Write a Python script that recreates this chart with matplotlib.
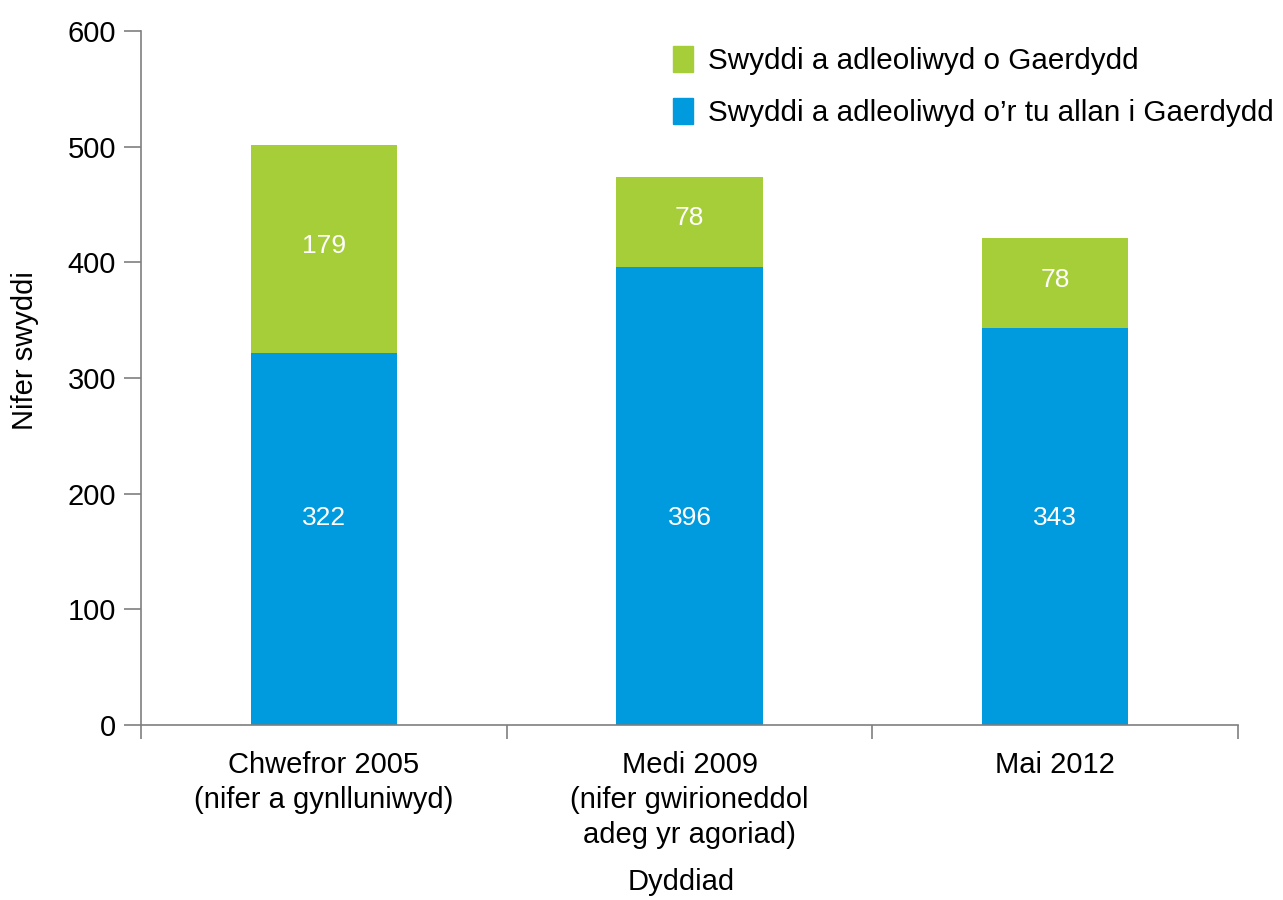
import matplotlib.pyplot as plt
from matplotlib.patches import Patch

plt.rcParams['font.family'] = ['Liberation Sans', 'DejaVu Sans']

categories = ['Chwefror 2005\n(nifer a gynlluniwyd)',
              'Medi 2009\n(nifer gwirioneddol\nadeg yr agoriad)',
              'Mai 2012']
outside = [322, 396, 343]   # Swyddi a adleoliwyd o'r tu allan i Gaerdydd
cardiff = [179, 78, 78]     # Swyddi a adleoliwyd o Gaerdydd

blue = '#009ADE'
green = '#A6CE39'
grey = '#7f7f7f'

fig = plt.figure(figsize=(12.83, 9), dpi=100)
ax = fig.add_axes([0.11, 0.1944, 0.855, 0.7712])

x = list(range(len(categories)))
ax.bar(x, outside, width=0.4, color=blue)
ax.bar(x, cardiff, width=0.4, bottom=outside, color=green)

# in the original the blue labels all sit at the same height
for i in x:
    ax.text(i, 179, str(outside[i]), color='white', fontsize=19,
            ha='center', va='center')
    ax.text(i, outside[i] + cardiff[i] / 2 + 3, str(cardiff[i]), color='white',
            fontsize=19, ha='center', va='center')

ax.set_xlim(-0.5, 2.5)
ax.set_ylim(0, 600)
ax.set_yticks(range(0, 601, 100))
ax.tick_params(axis='y', labelsize=21, length=12, width=1.2, color=grey, pad=6)

# category separators as major ticks, labels on minor ticks
ax.set_xticks([-0.5, 0.5, 1.5, 2.5])
ax.set_xticklabels([])
ax.set_xticks(x, minor=True)
ax.set_xticklabels(categories, minor=True, fontsize=21, linespacing=1.3)
ax.tick_params(axis='x', which='major', length=10, width=1.2, color=grey)
ax.tick_params(axis='x', which='minor', length=0, pad=19)

for s in ['top', 'right']:
    ax.spines[s].set_visible(False)
for s in ['left', 'bottom']:
    ax.spines[s].set_color(grey)
    ax.spines[s].set_linewidth(1.2)

ax.set_ylabel('Nifer swyddi', fontsize=21)
ax.yaxis.set_label_coords(-0.093, 0.539)
fig.text(0.531, 0.004, 'Dyddiad', fontsize=21, ha='center', va='bottom')

handles = [Patch(color=green), Patch(color=blue)]
labels = ['Swyddi a adleoliwyd o Gaerdydd',
          "Swyddi a adleoliwyd o\u2019r tu allan i Gaerdydd"]
fig.legend(handles, labels, loc='upper left', bbox_to_anchor=(0.515, 0.962),
           frameon=False, fontsize=21.3, handlelength=0.7, handleheight=0.95,
           handletextpad=0.5, labelspacing=0.78, borderaxespad=0)

fig.savefig('out.png', dpi=100)
